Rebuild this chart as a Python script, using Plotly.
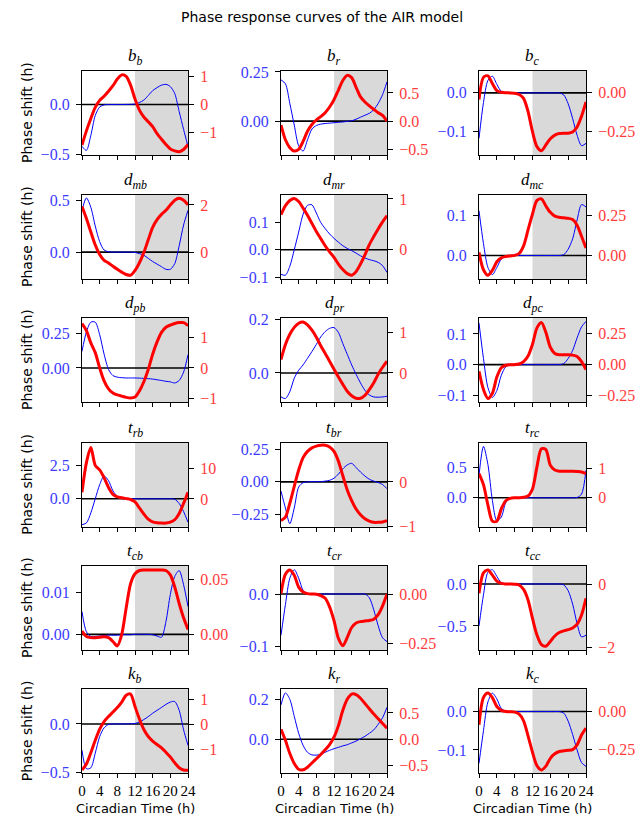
import plotly.graph_objects as go

W, H = 644, 817

# ---------------- data ----------------
hours = list(range(25))
x_tick_values = [0, 4, 8, 12, 16, 20, 24]
dark_phase = [12, 24]
zero_level = 0

symbols = ["b", "b", "b", "d", "d", "d", "d", "d", "d",
           "t", "t", "t", "t", "t", "t", "k", "k", "k"]
subscripts = ["b", "r", "c", "mb", "mr", "mc", "pb", "pr", "pc",
              "rb", "br", "rc", "cb", "cr", "cc", "b", "r", "c"]

bb_blue = [-0.42, -0.46, -0.31, -0.11, -0.025, -0.003, 0, 0, 0, 0, 0.001, 0.002, 0.005, 0.02, 0.045, 0.09, 0.14, 0.17, 0.195, 0.203, 0.18, 0.11, -0.07, -0.25, -0.42]
bb_red = [-1.46, -0.95, -0.5, -0.1, 0.15, 0.3, 0.48, 0.68, 0.92, 1.07, 1.02, 0.7, 0.2, -0.2, -0.45, -0.62, -0.8, -1.05, -1.25, -1.44, -1.6, -1.67, -1.7, -1.62, -1.44]
br_blue = [0.21, 0.19, 0.09, -0.02, -0.125, -0.152, -0.095, -0.04, -0.022, -0.015, -0.012, -0.01, -0.008, -0.006, -0.004, -0.001, 0.002, 0.01, 0.02, 0.03, 0.04, 0.058, 0.09, 0.135, 0.2]
br_red = [-0.07, -0.33, -0.47, -0.53, -0.5, -0.36, -0.18, -0.06, 0.02, 0.08, 0.15, 0.25, 0.38, 0.55, 0.72, 0.81, 0.77, 0.6, 0.43, 0.34, 0.27, 0.21, 0.15, 0.1, 0.0]
bc_blue = [-0.117, -0.025, 0.032, 0.043, 0.022, 0.004, 0.0005, 0, 0, 0, 0, 0, 0, 0, 0, 0, 0, 0, 0, -0.005, -0.028, -0.066, -0.109, -0.136, -0.13]
bc_red = [-0.043, 0.1, 0.11, 0.06, 0.015, 0.004, 0.001, 0, -0.002, -0.01, -0.035, -0.12, -0.25, -0.346, -0.372, -0.335, -0.295, -0.272, -0.262, -0.26, -0.26, -0.252, -0.22, -0.15, -0.058]

dmb_blue = [0.40, 0.52, 0.43, 0.25, 0.1, 0.02, 0.003, 0, 0, 0, 0, 0, -0.003, -0.015, -0.03, -0.06, -0.09, -0.115, -0.14, -0.165, -0.165, -0.11, 0.06, 0.26, 0.40]
dmb_red = [1.93, 1.42, 0.85, 0.3, -0.1, -0.35, -0.46, -0.6, -0.73, -0.85, -0.95, -0.98, -0.78, -0.45, -0.02, 0.52, 1.05, 1.38, 1.6, 1.77, 2.0, 2.2, 2.28, 2.2, 2.0]
dmr_blue = [-0.09, -0.093, -0.06, 0.0, 0.065, 0.13, 0.163, 0.165, 0.135, 0.1, 0.078, 0.058, 0.042, 0.028, 0.015, 0.005, -0.003, -0.012, -0.022, -0.03, -0.036, -0.04, -0.046, -0.058, -0.083]
dmr_red = [0.69, 0.87, 0.97, 1.01, 0.95, 0.82, 0.68, 0.52, 0.36, 0.22, 0.08, -0.04, -0.15, -0.28, -0.39, -0.47, -0.5, -0.43, -0.28, -0.1, 0.1, 0.26, 0.41, 0.55, 0.67]
dmc_blue = [0.1125, 0.03, -0.03, -0.048, -0.03, -0.009, -0.001, 0, 0, 0, 0, 0, 0, 0, 0, 0, 0, 0, 0, 0.002, 0.016, 0.042, 0.089, 0.128, 0.122]
dmc_red = [0.019, -0.09, -0.125, -0.093, -0.04, -0.015, -0.007, -0.003, 0, 0.012, 0.06, 0.16, 0.26, 0.345, 0.355, 0.31, 0.27, 0.246, 0.239, 0.236, 0.233, 0.225, 0.19, 0.12, 0.046]

dpb_blue = [0.12, 0.26, 0.33, 0.33, 0.24, 0.1, -0.01, -0.055, -0.066, -0.07, -0.072, -0.072, -0.072, -0.073, -0.075, -0.077, -0.08, -0.085, -0.09, -0.096, -0.1, -0.108, -0.09, -0.03, 0.096]
dpb_red = [1.45, 1.22, 0.82, 0.5, 0.0, -0.42, -0.68, -0.82, -0.88, -0.92, -0.96, -0.98, -0.95, -0.75, -0.45, -0.05, 0.45, 0.85, 1.16, 1.33, 1.4, 1.45, 1.48, 1.48, 1.38]
dpr_blue = [-0.09, -0.096, -0.07, -0.02, 0.01, 0.03, 0.055, 0.08, 0.107, 0.135, 0.155, 0.167, 0.17, 0.152, 0.11, 0.07, 0.03, -0.005, -0.0375, -0.065, -0.083, -0.09, -0.091, -0.09, -0.0875]
dpr_red = [0.33, 0.7, 0.95, 1.12, 1.22, 1.25, 1.18, 1.05, 0.88, 0.67, 0.48, 0.29, 0.09, -0.1, -0.28, -0.45, -0.56, -0.62, -0.62, -0.55, -0.41, -0.24, -0.03, 0.14, 0.29]
dpc_blue = [0.136, 0.02, -0.075, -0.107, -0.085, -0.035, -0.007, -0.001, 0, 0, 0, 0, 0, 0, 0, 0, 0, 0, 0, 0.003, 0.02, 0.046, 0.087, 0.123, 0.141]
dpc_red = [-0.054, -0.2, -0.272, -0.23, -0.1, -0.025, -0.005, -0.001, 0, 0.005, 0.025, 0.07, 0.165, 0.296, 0.34, 0.26, 0.14, 0.09, 0.08, 0.08, 0.08, 0.077, 0.065, 0.025, -0.04]

trb_blue = [-1.93, -1.8, -1.05, 0, 1.05, 1.7, 1.35, 0.6, 0.18, 0.05, 0.01, 0, 0, 0, 0, 0, 0, 0, 0, 0, 0, -0.03, -0.35, -0.95, -1.75]
trb_red = [2.2, 12, 17, 11.1, 9.6, 7, 3.8, 1.5, 0.7, 0.4, 0.1, -0.2, -1.0, -3.0, -5.0, -6.7, -7.6, -7.9, -8.0, -8.0, -7.7, -6.9, -4.8, -1.5, 2.2]
tbr_blue = [-0.07, -0.2, -0.32, -0.2, -0.04, -0.006, 0, 0.002, 0.002, 0.002, 0.006, 0.012, 0.028, 0.06, 0.1, 0.13, 0.142, 0.11, 0.075, 0.045, 0.02, 0.006, -0.005, -0.02, -0.052]
tbr_red = [-0.87, -0.79, -0.48, -0.1, 0.27, 0.55, 0.69, 0.77, 0.81, 0.83, 0.83, 0.79, 0.69, 0.47, 0.14, -0.18, -0.42, -0.61, -0.74, -0.83, -0.88, -0.91, -0.91, -0.9, -0.87]
trc_blue = [0.372, 0.85, 0.55, -0.044, -0.38, -0.32, -0.08, -0.01, 0, 0, 0, 0, 0, 0, 0, 0, 0, 0, 0, 0, 0, 0, 0.005, 0.06, 0.455]
trc_red = [0.83, 0.45, -0.25, -0.8, -0.8, -0.38, -0.1, -0.02, 0, 0.003, 0.015, 0.06, 0.3, 1.06, 1.68, 1.65, 1.11, 0.95, 0.91, 0.91, 0.91, 0.91, 0.9, 0.885, 0.83]

tcb_blue = [0.0054, 0.0006, -0.0005, -0.0005, -0.0004, -0.0003, -0.0002, -0.0002, -0.0002, -0.0001, -0.0001, -0.0001, 0, 0, 0, 0, -0.0001, -0.0004, -0.0007, 0.003, 0.0095, 0.0138, 0.0152, 0.0118, 0.0066]
tcb_red = [0.003, -0.002, -0.003, -0.003, -0.0027, -0.0022, -0.003, -0.0065, -0.0105, 0.0, 0.024, 0.046, 0.055, 0.058, 0.0585, 0.0585, 0.0585, 0.0585, 0.0585, 0.058, 0.054, 0.043, 0.028, 0.015, 0.0045]
tcr_blue = [-0.078, -0.02, 0.03, 0.046, 0.03, 0.007, 0.001, 0, 0, 0, 0, 0, 0, 0, 0, 0, 0, 0, 0, 0, -0.007, -0.03, -0.06, -0.083, -0.09]
tcr_red = [0.003, 0.1, 0.122, 0.095, 0.035, 0.01, 0.002, 0, -0.001, -0.008, -0.022, -0.065, -0.135, -0.225, -0.262, -0.22, -0.17, -0.147, -0.14, -0.137, -0.134, -0.128, -0.105, -0.06, 0.0]
tcc_blue = [-0.5, -0.13, 0.14, 0.17, 0.09, 0.015, 0.002, 0, 0, 0, 0, 0, 0, 0, 0, 0, 0, 0, 0, -0.01, -0.08, -0.24, -0.47, -0.63, -0.61]
tcc_red = [-0.29, 0.35, 0.44, 0.28, 0.09, 0.02, 0.003, 0, -0.005, -0.03, -0.17, -0.5, -1.08, -1.6, -1.9, -1.95, -1.8, -1.63, -1.52, -1.47, -1.43, -1.38, -1.26, -0.97, -0.45]

kb_blue = [-0.27, -0.46, -0.45, -0.3, -0.13, -0.04, -0.005, 0, 0, 0, 0, 0.002, 0.005, 0.02, 0.045, 0.075, 0.11, 0.14, 0.17, 0.2, 0.225, 0.23, 0.14, -0.06, -0.22]
kb_red = [-1.84, -1.6, -1.15, -0.65, -0.2, 0.1, 0.3, 0.48, 0.66, 0.88, 1.15, 1.2, 0.7, 0.2, -0.22, -0.5, -0.68, -0.82, -0.95, -1.13, -1.32, -1.55, -1.75, -1.84, -1.85]
kr_blue = [0.172, 0.232, 0.2, 0.115, 0.03, -0.03, -0.065, -0.078, -0.079, -0.075, -0.065, -0.055, -0.047, -0.04, -0.033, -0.027, -0.018, -0.009, 0.003, 0.015, 0.03, 0.047, 0.075, 0.108, 0.16]
kr_red = [0.19, -0.02, -0.27, -0.46, -0.57, -0.58, -0.53, -0.45, -0.37, -0.29, -0.2, -0.1, 0.04, 0.26, 0.55, 0.76, 0.86, 0.85, 0.78, 0.68, 0.58, 0.48, 0.39, 0.3, 0.21]
kc_blue = [-0.135, -0.05, 0.025, 0.048, 0.033, 0.008, 0.001, 0, 0, 0, 0, 0, 0, 0, 0, 0, 0, 0, 0, -0.004, -0.025, -0.06, -0.1, -0.133, -0.143]
kc_red = [-0.087, 0.095, 0.125, 0.095, 0.035, 0.01, 0.002, 0, -0.002, -0.015, -0.06, -0.16, -0.27, -0.36, -0.388, -0.362, -0.31, -0.28, -0.265, -0.26, -0.257, -0.252, -0.22, -0.155, -0.109]

blue_series = [bb_blue, br_blue, bc_blue, dmb_blue, dmr_blue, dmc_blue,
               dpb_blue, dpr_blue, dpc_blue, trb_blue, tbr_blue, trc_blue,
               tcb_blue, tcr_blue, tcc_blue, kb_blue, kr_blue, kc_blue]
red_series = [bb_red, br_red, bc_red, dmb_red, dmr_red, dmc_red,
              dpb_red, dpr_red, dpc_red, trb_red, tbr_red, trc_red,
              tcb_red, tcr_red, tcc_red, kb_red, kr_red, kc_red]

left_ticks = [[-0.5, 0.0], [0.0, 0.25], [-0.1, 0.0],
              [0.0, 0.5], [-0.1, 0.0, 0.1], [0.0, 0.1],
              [-0.25, 0.0, 0.25], [0.0, 0.2], [-0.1, 0.0, 0.1],
              [0.0, 2.5], [-0.25, 0.0, 0.25], [0.0, 0.5],
              [0.0, 0.01], [-0.1, 0.0], [-0.5, 0.0],
              [-0.5, 0.0], [0.0, 0.2], [-0.1, 0.0]]
left_labels = [["\u22120.5", "0.0"], ["0.00", "0.25"], ["\u22120.1", "0.0"],
               ["0.0", "0.5"], ["\u22120.1", "0.0", "0.1"], ["0.0", "0.1"],
               ["\u22120.25", "0.00", "0.25"], ["0.0", "0.2"], ["\u22120.1", "0.0", "0.1"],
               ["0.0", "2.5"], ["\u22120.25", "0.00", "0.25"], ["0.0", "0.5"],
               ["0.00", "0.01"], ["\u22120.1", "0.0"], ["\u22120.5", "0.0"],
               ["\u22120.5", "0.0"], ["0.0", "0.2"], ["\u22120.1", "0.0"]]
right_ticks = [[-1, 0, 1], [-0.5, 0.0, 0.5], [-0.25, 0.0],
               [0, 2], [0, 1], [0.0, 0.25],
               [-1, 0, 1], [0, 1], [-0.25, 0.0, 0.25],
               [0, 10], [-1, 0], [0, 1],
               [0.0, 0.05], [-0.25, 0.0], [-2, 0],
               [-1, 0, 1], [-0.5, 0.0, 0.5], [-0.25, 0.0]]
right_labels = [["\u22121", "0", "1"], ["\u22120.5", "0.0", "0.5"], ["\u22120.25", "0.00"],
                ["0", "2"], ["0", "1"], ["0.00", "0.25"],
                ["\u22121", "0", "1"], ["0", "1"], ["\u22120.25", "0.00", "0.25"],
                ["0", "10"], ["\u22121", "0"], ["0", "1"],
                ["0.00", "0.05"], ["\u22120.25", "0.00"], ["\u22122", "0"],
                ["\u22121", "0", "1"], ["\u22120.5", "0.0", "0.5"], ["\u22120.25", "0.00"]]

# ---------------- layout config ----------------
left_ranges = [[-0.507, 0.337], [-0.172, 0.255], [-0.16, 0.0564],
               [-0.258, 0.548], [-0.107, 0.201], [-0.059, 0.152],
               [-0.245, 0.36], [-0.109, 0.206], [-0.122, 0.152],
               [-2.08, 4.18], [-0.343, 0.3], [-0.478, 0.911],
               [-0.00373, 0.01627], [-0.106, 0.053], [-0.786, 0.214],
               [-0.507, 0.356], [-0.17, 0.25], [-0.161, 0.058]]
right_ranges = [[-1.82, 1.21], [-0.6, 0.888], [-0.4, 0.141],
                [-1.14, 2.42], [-0.575, 1.078], [-0.148, 0.379],
                [-1.11, 1.63], [-0.713, 1.35], [-0.301, 0.376],
                [-9.2, 18.6], [-1.008, 0.886], [-0.99, 1.885],
                [-0.01424, 0.0621], [-0.284, 0.142], [-2.07, 0.565],
                [-1.97, 1.39], [-0.646, 0.95], [-0.41, 0.15]]

col_px = [(82, 188), (281, 387), (479, 586)]
row_top_px = [71, 195, 318, 442.7, 566, 689.3]
box_h = 84

SERIF = "Liberation Serif"
SANS = "DejaVu Sans"
BLUE = "#0000ff"
RED = "#ff0000"
TICK_BLUE = "#3b3bff"
TICK_RED = "#ff3b3b"
TICK_SIZE = 16
XTICK_SIZE = 15

fig = go.Figure()
layout = dict(
    width=W, height=H,
    margin=dict(l=0, r=0, t=0, b=0, autoexpand=False),
    paper_bgcolor="white", plot_bgcolor="white",
    showlegend=False,
)
shapes = []
annotations = []

for k in range(18):
    r, c = divmod(k, 3)
    n = k + 1
    xid = "x" if n == 1 else f"x{n}"
    ylid = "y" if n == 1 else f"y{2 * k + 1}"
    yrid = f"y{2 * k + 2}"
    xkey = "xaxis" if n == 1 else f"xaxis{n}"
    ylkey = "yaxis" if n == 1 else f"yaxis{2 * k + 1}"
    yrkey = f"yaxis{2 * k + 2}"

    x0p, x1p = col_px[c]
    top = row_top_px[r]
    bot = top + box_h
    xdom = [x0p / W, x1p / W]
    ydom = [1 - bot / H, 1 - top / H]

    fig.add_trace(go.Scatter(
        x=hours, y=blue_series[k], mode="lines",
        line=dict(color=BLUE, width=1, shape="spline", smoothing=0.8),
        xaxis=xid, yaxis=ylid, hoverinfo="skip"))
    fig.add_trace(go.Scatter(
        x=hours, y=red_series[k], mode="lines",
        line=dict(color=RED, width=3, shape="spline", smoothing=0.8),
        xaxis=xid, yaxis=yrid, hoverinfo="skip"))

    layout[xkey] = dict(
        domain=xdom, range=[0, 24], anchor=ylid, automargin=False,
        tickvals=x_tick_values, ticks="outside", ticklen=4, tickwidth=1,
        tickangle=0, tickcolor="black", showticklabels=(r == 5),
        ticklabelstandoff=0,
        tickfont=dict(family=SERIF, size=XTICK_SIZE, color="black"),
        showline=True, mirror=True, linecolor="black", linewidth=1.3,
        showgrid=False, zeroline=False, fixedrange=True)
    layout[ylkey] = dict(
        domain=ydom, range=left_ranges[k], anchor=xid, automargin=False,
        tickvals=left_ticks[k], ticktext=left_labels[k],
        ticks="outside", ticklen=5, tickwidth=1, tickcolor="black",
        ticklabelstandoff=3,
        tickfont=dict(family=SERIF, size=TICK_SIZE, color=TICK_BLUE),
        showline=True, mirror=True, linecolor="black", linewidth=1.3,
        showgrid=False, zeroline=False, fixedrange=True)
    layout[yrkey] = dict(
        range=right_ranges[k], anchor=xid, overlaying=ylid, side="right",
        automargin=False,
        tickvals=right_ticks[k], ticktext=right_labels[k],
        ticks="outside", ticklen=5, tickwidth=1, tickcolor="black",
        ticklabelstandoff=3,
        tickfont=dict(family=SERIF, size=TICK_SIZE, color=TICK_RED),
        showline=True, linecolor="black", linewidth=1.3,
        showgrid=False, zeroline=False, fixedrange=True)

    shapes.append(dict(type="rect", xref=xid, yref=f"{ylid} domain",
                       x0=dark_phase[0], x1=dark_phase[1], y0=0, y1=1,
                       fillcolor="#d9d9d9", line=dict(width=0), layer="below"))
    shapes.append(dict(type="line", xref=xid, yref=ylid,
                       x0=0, x1=24, y0=zero_level, y1=zero_level,
                       line=dict(color="black", width=1.6), layer="below"))

    annotations.append(dict(
        x=(xdom[0] + xdom[1]) / 2, y=ydom[1], xref="paper", yref="paper",
        xanchor="center", yanchor="bottom", yshift=1, showarrow=False,
        text=f"{symbols[k]}<sub>{subscripts[k]}</sub>",
        font=dict(family=SERIF, size=17, color="black", style="italic")))

    if c == 0:
        annotations.append(dict(
            x=27 / W, y=(ydom[0] + ydom[1]) / 2, xref="paper", yref="paper",
            xanchor="center", yanchor="middle", showarrow=False, textangle=-90,
            text="Phase shift (h)", font=dict(family=SANS, size=14, color="black")))
    if r == 5:
        annotations.append(dict(
            x=(xdom[0] + xdom[1]) / 2, y=1 - 808 / H, xref="paper", yref="paper",
            xanchor="center", yanchor="middle", showarrow=False,
            text="Circadian Time (h)", font=dict(family=SANS, size=13, color="black")))

annotations.append(dict(
    x=0.5, y=1 - 17 / H, xref="paper", yref="paper", xanchor="center",
    yanchor="middle", showarrow=False,
    text="Phase response curves of the AIR model",
    font=dict(family=SANS, size=14, color="black")))

layout["shapes"] = shapes
layout["annotations"] = annotations
fig.update_layout(**layout)
fig.write_html("out.html")
